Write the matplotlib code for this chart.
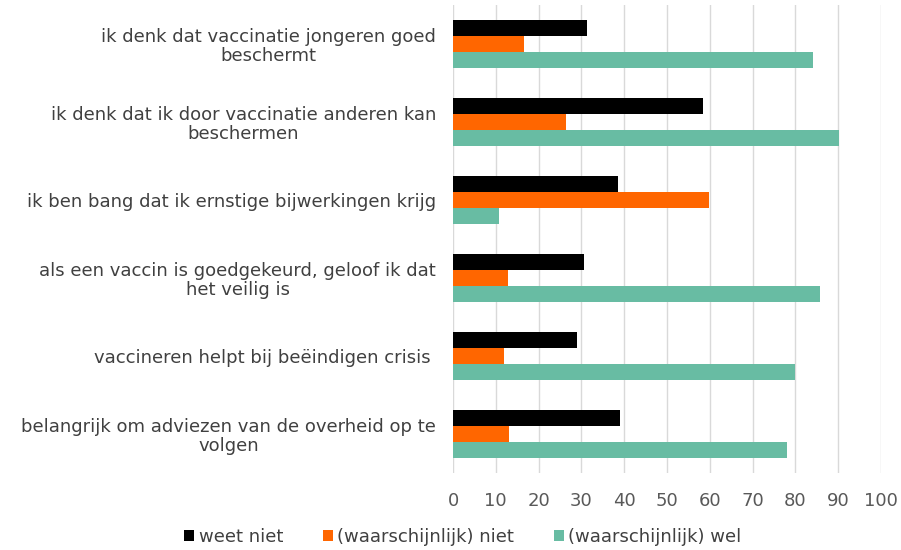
import matplotlib
matplotlib.use("Agg")
import matplotlib.pyplot as plt
import matplotlib.transforms as mtrans
import numpy as np

categories = [
    "ik denk dat vaccinatie jongeren goed\nbeschermt",
    "ik denk dat ik door vaccinatie anderen kan\nbeschermen",
    "ik ben bang dat ik ernstige bijwerkingen krijg",
    "als een vaccin is goedgekeurd, geloof ik dat\nhet veilig is",
    "vaccineren helpt bij beëindigen crisis ",
    "belangrijk om adviezen van de overheid op te\nvolgen",
]
weet_niet = [31.2, 58.3, 38.6, 30.5, 29.0, 39.1]
waarsch_niet = [16.6, 26.5, 59.8, 12.8, 11.8, 13.2]
waarsch_wel = [84.1, 90.1, 10.7, 85.7, 80.0, 78.0]
series_labels = ["weet niet", "(waarschijnlijk) niet", "(waarschijnlijk) wel"]
colors = ["#000000", "#FF6600", "#68BCA3"]
xticks = list(range(0, 101, 10))

plt.rcParams['font.family'] = ['DejaVu Sans']
fig = plt.figure(figsize=(9.01, 5.5), dpi=100)
ax = fig.add_axes([453/901, 1 - 473/550, (881-453)/901, (473-5)/550])

y = np.arange(len(categories))
h = 0.205
for i, (vals, lab, col) in enumerate(zip([weet_niet, waarsch_niet, waarsch_wel], series_labels, colors)):
    ax.barh(y + (i - 1) * h, vals, height=h, color=col, label=lab, zorder=3)

fs = 13
ax.set_ylim(len(categories) - 0.5, -0.5)
ax.set_xlim(0, 100)
ax.set_xticks(xticks)
ax.set_xticklabels([str(t) for t in xticks])
ax.set_yticks(y)
ax.set_yticklabels(categories)
ax.tick_params(axis='y', length=0, pad=0, labelsize=fs, labelcolor='#404040')
ax.tick_params(axis='x', length=0, pad=14, labelsize=fs, labelcolor='#595959')
ax.grid(axis='x', color='#D9D9D9', linewidth=1, zorder=0)
for s in ax.spines.values():
    s.set_visible(False)

for lbl in ax.get_yticklabels():
    lbl.set_horizontalalignment('right')
    lbl.set_multialignment('center')
    lbl.set_linespacing(1.05)
    lbl.set_transform(mtrans.blended_transform_factory(fig.transFigure, ax.transData))
    lbl.set_x(436/901)

handles, labels = ax.get_legend_handles_labels()
fig.legend(handles, labels, loc='center', bbox_to_anchor=(463/901, 1 - 537/550), ncol=3,
           frameon=False, fontsize=fs, handlelength=0.55, handleheight=0.55,
           handletextpad=0.25, columnspacing=2.2, labelcolor='#404040')

fig.savefig("out.png", dpi=100)
